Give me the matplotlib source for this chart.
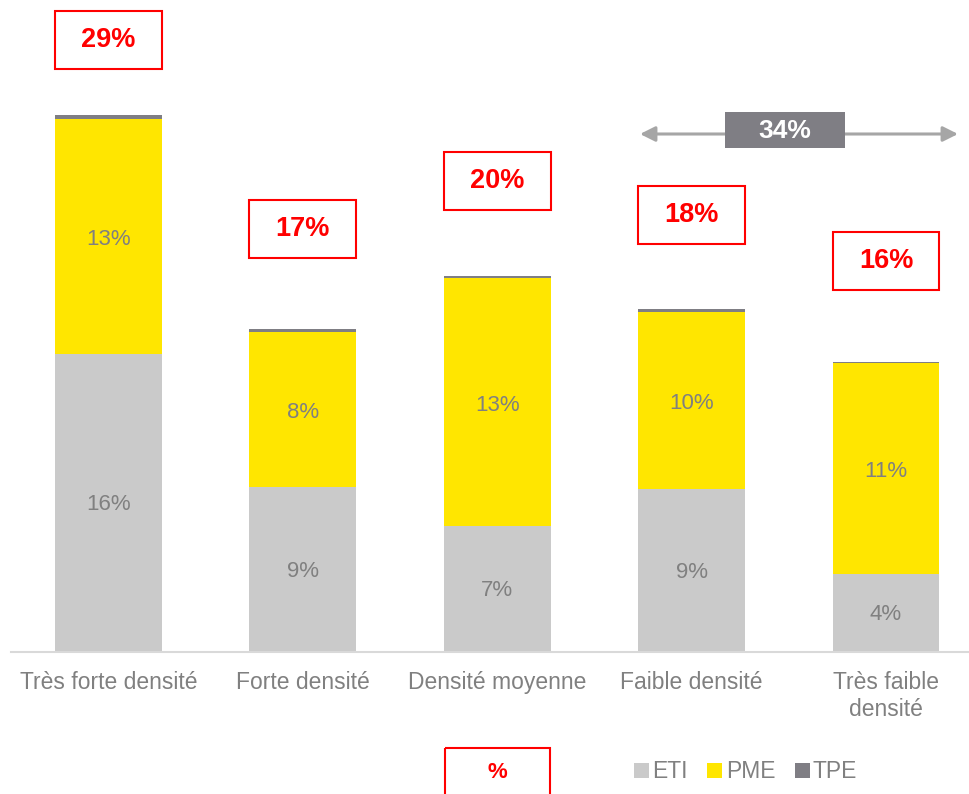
import matplotlib
matplotlib.use("Agg")
import matplotlib.pyplot as plt
from matplotlib.patches import Rectangle, Patch

plt.rcParams['font.family'] = ['Liberation Sans', 'DejaVu Sans']

categories = ["Très forte densité", "Forte densité", "Densité moyenne", "Faible densité", "Très faible\ndensité"]
eti = [16.1, 8.9, 6.8, 8.8, 4.2]
pme = [12.7, 8.4, 13.4, 9.6, 11.4]
tpe = [0.25, 0.15, 0.12, 0.12, 0.06]
eti_labels = ["16%", "9%", "7%", "9%", "4%"]
pme_labels = ["13%", "8%", "13%", "10%", "11%"]
box_labels = ["29%", "17%", "20%", "18%", "16%"]
box_bottoms = [31.5, 21.3, 23.9, 22.05, 19.55]
arrow_label = "34%"
series_names = ["ETI", "PME", "TPE"]

C_ETI = "#CACACA"
C_PME = "#FFE600"
C_TPE = "#7F7E84"
C_TXT = "#808080"
RED = "#FF0000"

W, H = 969, 794
fig = plt.figure(figsize=(W / 100, H / 100), dpi=100)

px_per_unit = 18.5
base_px = 652
left_px = 108.5 - 97.2
right_px = 886 + 97.2
ax = fig.add_axes([left_px / W, 1 - base_px / H, (right_px - left_px) / W, base_px / H])
ax.set_xlim(-0.5, 4.5)
ax.set_ylim(0, base_px / px_per_unit)

x = list(range(len(categories)))
bw = 0.55
bottom2 = [a + b for a, b in zip(eti, pme)]
ax.bar(x, eti, bw, color=C_ETI, linewidth=0)
ax.bar(x, pme, bw, bottom=eti, color=C_PME, linewidth=0)
ax.bar(x, tpe, bw, bottom=bottom2, color=C_TPE, linewidth=0)

for i in x:
    ax.text(i, eti[i] / 2 - 0.1, eti_labels[i], ha='center', va='center', fontsize=16, color=C_TXT)
    ax.text(i, eti[i] + pme[i] / 2 - 0.15, pme_labels[i], ha='center', va='center', fontsize=16, color=C_TXT)
    bh = 58 / px_per_unit
    ax.add_patch(Rectangle((i - bw / 2, box_bottoms[i]), bw, bh, fill=False,
                           edgecolor=RED, linewidth=1.5, clip_on=False))
    ax.text(i, box_bottoms[i] + bh / 2, box_labels[i], ha='center', va='center',
            fontsize=19.5, fontweight='bold', color=RED)

for s in ['top', 'right', 'left']:
    ax.spines[s].set_visible(False)
ax.spines['bottom'].set_color('#D9D9D9')
ax.spines['bottom'].set_linewidth(1.5)
ax.set_yticks([])
ax.set_xticks(x)
ax.set_xticklabels(categories, fontsize=16.5, color=C_TXT, linespacing=1.2)
ax.tick_params(axis='x', length=0, pad=14)

# arrow with dark box
fig_ax = fig.add_axes([0, 0, 1, 1], facecolor='none')
fig_ax.set_xlim(0, W)
fig_ax.set_ylim(H, 0)
fig_ax.axis('off')
fig_ax.annotate('', xy=(958, 134), xytext=(640, 134),
                arrowprops=dict(arrowstyle='<|-|>,head_length=0.9,head_width=0.45',
                                color='#A6A6A6', linewidth=2.2, shrinkA=0, shrinkB=0))
fig_ax.add_patch(Rectangle((725, 112), 120, 36, facecolor=C_TPE, edgecolor='none', zorder=3))
fig_ax.text(785, 131, arrow_label, ha='center', va='center', fontsize=19,
            fontweight='bold', color='white', zorder=4)

# bottom red box
fig_ax.add_patch(Rectangle((445, 748), 105, 60, fill=False, edgecolor=RED, linewidth=1.5))
fig_ax.text(497.5, 773, "%", ha='center', va='center', fontsize=16, fontweight='bold', color=RED)

# legend
handles = [Patch(facecolor=c, edgecolor='none') for c in (C_ETI, C_PME, C_TPE)]
leg = fig.legend(handles, series_names, loc='center left', bbox_to_anchor=(634 / W, 1 - 772 / H),
                 ncol=3, frameon=False, fontsize=16.5, handlelength=0.65, handleheight=0.65,
                 handletextpad=0.15, columnspacing=0.85, borderaxespad=0, borderpad=0)
for t in leg.get_texts():
    t.set_color(C_TXT)

fig.savefig("out.png", dpi=100, facecolor='white')
